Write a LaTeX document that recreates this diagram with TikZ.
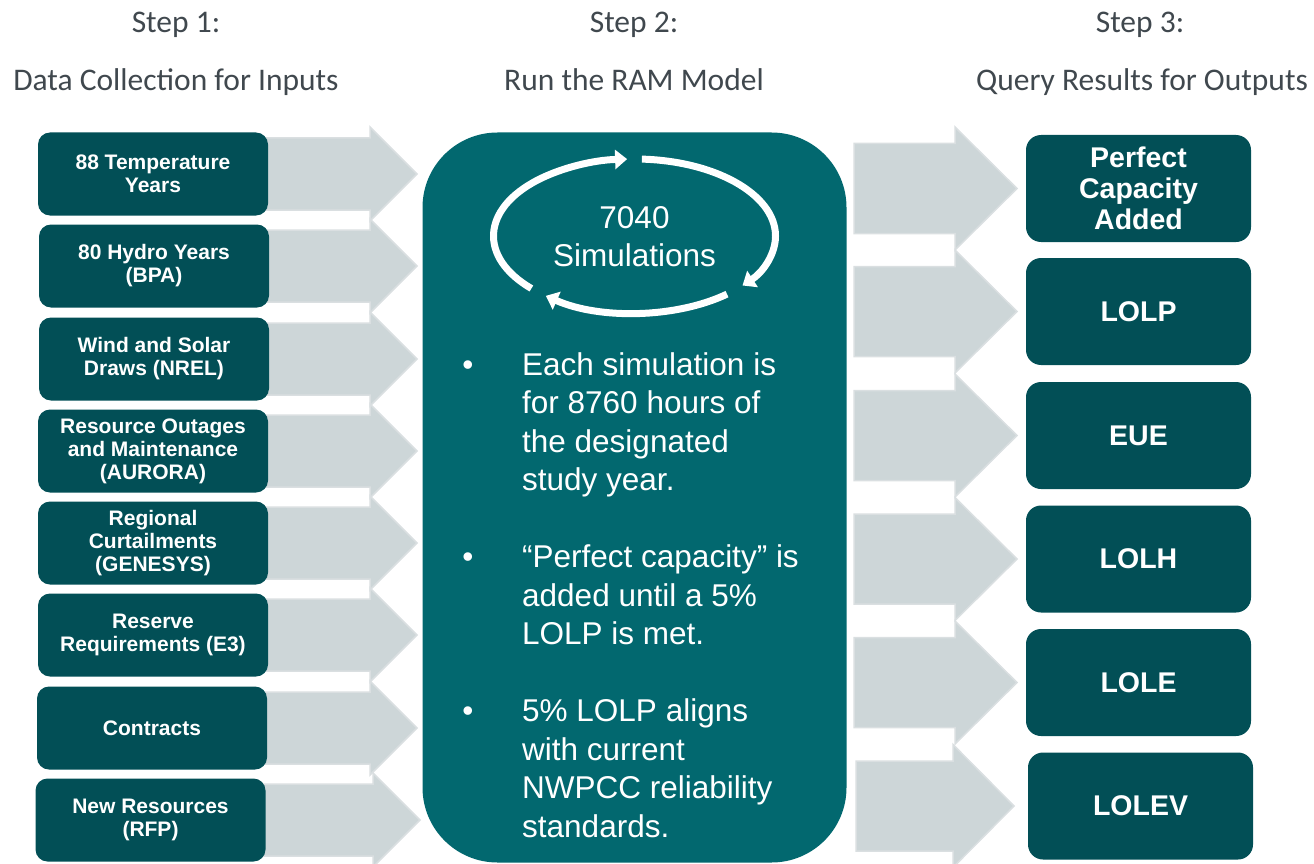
\documentclass[tikz,border=0pt]{standalone}
\usepackage{fontspec}
\setmainfont{Liberation Sans}
\newfontfamily\headfont{Carlito}
\usetikzlibrary{arrows.meta,calc}
\definecolor{boxteal}{HTML}{024F56}
\definecolor{midteal}{HTML}{02686F}
\definecolor{agray}{HTML}{CDD6D8}
\definecolor{aedge}{HTML}{DADFE1}
\definecolor{headgray}{HTML}{40484E}
% x0, xhead, xtip, ycenter, half body, half head
\newcommand\grayarrow[6]{\filldraw[garrow] (#1,#4-#5) -- (#2,#4-#5) -- (#2,#4-#6) -- (#3,#4) -- (#2,#4+#6) -- (#2,#4+#5) -- (#1,#4+#5) -- cycle;}
\begin{document}
\begin{tikzpicture}[x=1pt,y=-1pt,
  garrow/.style={fill=agray,draw=aedge,line width=1.5pt,line join=miter},
  head/.style={font=\headfont\fontsize{31.5}{36}\selectfont,text=headgray,inner sep=0pt,anchor=base},
  inbox/.style={fill=boxteal,rounded corners=12pt,minimum width=230pt,minimum height=83pt,inner sep=0pt,text=white,align=center,font=\bfseries\fontsize{21}{23}\selectfont},
  outbox/.style={fill=boxteal,rounded corners=15pt,minimum width=225pt,minimum height=107pt,inner sep=0pt,text=white,align=center,font=\bfseries\fontsize{28.5}{31}\selectfont},
  bodytext/.style={text=white,inner sep=0pt,align=left,anchor=north west,font=\fontsize{31.5}{38.5}\selectfont},
  bullet/.style={text=white,inner sep=0pt,anchor=base,font=\fontsize{31.5}{38.5}\selectfont},
  circarrow/.style={draw=white,line width=7pt,-{Triangle[width=19pt,length=12pt]}}
]
\useasboundingbox (0,0) rectangle (1314,864);

% headings
\node[head] (s1) at (176,33) {Step 1:};
\node[head] (t1) at (176,91) {Data Collection for Inputs};
\node[head] (s2) at (634,33) {Step 2:};
\node[head] (t2) at (634,91) {Run the RAM Model};
\node[head] (s3) at (1140,33) {Step 3:};
\node[head] (t3) at (1142,91) {Query Results for Outputs};

% left gray arrows
\grayarrow{262}{370}{417}{174}{36}{47}
\grayarrow{262}{370}{417}{266}{36}{47}
\grayarrow{262}{370}{417}{359}{36}{47}
\grayarrow{262}{370}{417}{451}{36}{47}
\grayarrow{262}{370}{417}{543}{36}{47}
\grayarrow{262}{370}{417}{635}{36}{47}
\grayarrow{262}{370}{417}{728}{36}{47}
\grayarrow{262}{373}{420}{820}{36}{47}

% right gray arrows
\grayarrow{854}{955}{1017}{188.5}{45}{61.5}
\grayarrow{854}{955}{1017}{311.5}{45}{61.5}
\grayarrow{854}{955}{1017}{435.5}{45}{61.5}
\grayarrow{854}{955}{1017}{559}{45}{61.5}
\grayarrow{854}{955}{1017}{682.5}{45}{61.5}
\grayarrow{856}{953}{1014}{806}{45}{61.5}

% left input boxes
\node[inbox] (i1) at (153,174) {88 Temperature\\Years};
\node[inbox] (i2) at (154,266) {80 Hydro Years\\(BPA)};
\node[inbox] (i3) at (154,359) {Wind and Solar\\Draws (NREL)};
\node[inbox] (i4) at (153,451) {Resource Outages\\and Maintenance\\(AURORA)};
\node[inbox] (i5) at (153,543) {Regional\\Curtailments\\(GENESYS)};
\node[inbox] (i6) at (153,635) {Reserve\\Requirements (E3)};
\node[inbox] (i7) at (152,728) {Contracts};
\node[inbox] (i8) at (150.5,820) {New Resources\\(RFP)};

% central box
\node[fill=midteal,rounded corners=75pt,minimum width=424pt,minimum height=730pt,inner sep=0pt] (ram) at (634.5,497.5) {};

% simulation cycle
\node[text=white,align=center,inner sep=0pt,font=\fontsize{31.5}{38}\selectfont] (sim) at (634.5,237) {7040\\Simulations};
\coordinate (ec) at (634.5,236);
\draw[circarrow] ($(ec)+(137:141 and 77)$) arc[start angle=137,end angle=267,x radius=141,y radius=77];
\draw[circarrow] ($(ec)+(273:141 and 77)$) arc[start angle=273,end angle=400,x radius=141,y radius=77];
\draw[circarrow] ($(ec)+(49:141 and 77)$) arc[start angle=49,end angle=129,x radius=141,y radius=77];

% bullets
\node[bullet] (d1) at (468,375) {•};
\node[bodytext] (b1) at (522,352.4) {Each simulation is\\for 8760 hours of\\the designated\\study year.};
\node[bullet] (d2) at (468,567.5) {•};
\node[bodytext] (b2) at (522,544.9) {“Perfect capacity” is\\added until a 5\%\\LOLP is met.};
\node[bullet] (d3) at (468,721.5) {•};
\node[bodytext] (b3) at (522,698.9) {5\% LOLP aligns\\with current\\NWPCC reliability\\standards.};

% right output boxes
\node[outbox] (o1) at (1138.5,188.5) {Perfect\\Capacity\\Added};
\node[outbox] (o2) at (1138.5,311.5) {LOLP};
\node[outbox] (o3) at (1138.5,435.5) {EUE};
\node[outbox] (o4) at (1138.5,559) {LOLH};
\node[outbox] (o5) at (1138.5,682.5) {LOLE};
\node[outbox] (o6) at (1140.5,806) {LOLEV};
\end{tikzpicture}
\end{document}
